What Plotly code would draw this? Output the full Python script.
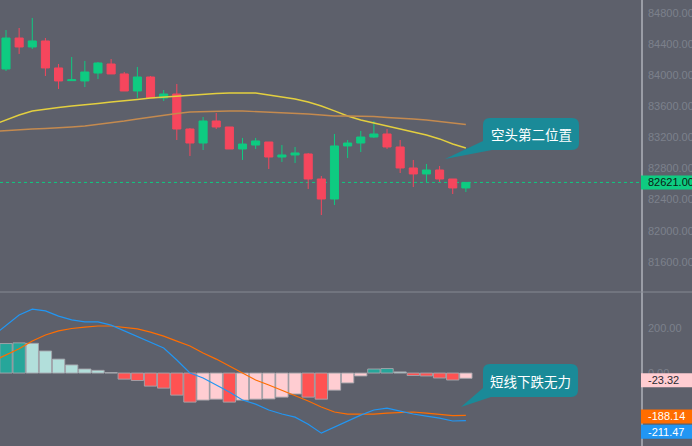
import plotly.graph_objects as go

# ---------------- data ----------------
candle_idx = list(range(1, 37))
opens = [84080, 84478, 84363, 84440, 84093, 83930, 83926, 84028, 84144, 84016, 83797, 83977,
         83707, 83758, 83308, 83128, 83411, 83334, 83051, 83102, 83141, 82948, 82974, 82987,
         82665, 82408, 83090, 83128, 83205, 83244, 83077, 82807, 82730, 82781, 82665, 82550]
highs = [84581, 84607, 84736, 84478, 84144, 84234, 84183, 84170, 84208, 84041, 84106, 83990,
         83810, 83887, 83321, 83463, 83514, 83334, 83193, 83193, 83141, 83102, 83077, 83000,
         82704, 83244, 83167, 83283, 83411, 83308, 83167, 82910, 82858, 82832, 82665, 82621]
lows = [84054, 84273, 84337, 83990, 83823, 83926, 83848, 83951, 84016, 83797, 83707, 83707,
        83668, 83167, 82961, 83038, 83308, 83051, 82910, 83051, 82794, 82884, 82871, 82537,
        82202, 82331, 82935, 83012, 83193, 83051, 82742, 82562, 82627, 82627, 82472, 82498]
closes = [84478, 84363, 84440, 84093, 83926, 83940, 84041, 84157, 84016, 83797, 83977, 83707,
          83758, 83308, 83128, 83411, 83334, 83051, 83115, 83154, 82948, 82974, 83000, 82665,
          82408, 83090, 83128, 83205, 83244, 83077, 82807, 82730, 82781, 82665, 82550, 82621]

line_idx = list(range(0, 37))
ma_fast = [83360, 83424, 83488, 83540, 83565, 83585, 83604, 83617, 83636, 83655, 83668, 83688,
           83707, 83720, 83733, 83745, 83758, 83765, 83771, 83771, 83771, 83745, 83720, 83694,
           83655, 83604, 83540, 83475, 83424, 83385, 83347, 83308, 83270, 83231, 83180, 83115, 83064]
ma_slow = [83276, 83289, 83302, 83308, 83315, 83321, 83334, 83347, 83366, 83392, 83411, 83437,
           83463, 83488, 83508, 83527, 83533, 83540, 83540, 83540, 83533, 83527, 83520, 83514,
           83501, 83488, 83475, 83475, 83475, 83469, 83456, 83450, 83437, 83424, 83405, 83385, 83366]

macd_hist = [131, 134, 132, 98, 62, 36, 18, 12, 2, -27, -33, -58, -67, -98, -129, -120, -116, -129,
             -120, -116, -115, -107, -93, -107, -116, -76, -44, -13, 18, 20, 5, -11, -13, -22, -31, -23.32]
macd_dif = [165, 213, 258, 284, 276, 253, 236, 227, 227, 213, 187, 164, 138, 111, 58, 0, -22, -53,
            -84, -120, -138, -164, -182, -196, -227, -267, -240, -213, -187, -164, -156, -169, -182,
            -191, -200, -213, -211.47]
macd_dea = [53, 80, 108, 142, 169, 187, 198, 204, 209, 209, 204, 196, 182, 164, 142, 120, 89, 62,
            31, 0, -31, -53, -76, -102, -124, -151, -173, -182, -182, -182, -178, -176, -173, -178,
            -182, -189, -188.14]

price_ticks = [81600, 82000, 82400, 82800, 83200, 83600, 84000, 84400, 84800]
macd_ticks = [-200, 0, 200]
callout_texts = ["空头第二位置", "短线下跌无力"]

# ---------------- styling ----------------
W, H = 692, 446
PLOT_W = 641
SPLIT = 292
BG = "#5d606b"
UP = "#0ecb81"
DOWN = "#f6465d"
TICK_COLOR = "#7c808b"
AXIS_LINE = "#9a9da6"
CALLOUT = "#1a8a98"
FONT = "Liberation Sans"
CJK = "Noto Sans CJK SC"


def hist_colors(vals):
    cols, prev = [], None
    for v in vals:
        rising = prev is None or v > prev
        if v >= 0:
            cols.append("#26a69a" if rising else "#b2dfdb")
        else:
            cols.append("#ffcdd2" if rising else "#ff5252")
        prev = v
    return cols


def P(x, y):
    return f"{x / PLOT_W:.5f},{1 - y / H:.5f}"


def callout_path(x0, y0, x1, y1, r, tail):
    a, b, c = tail
    return ("M" + P(x0 + r, y0) + " L" + P(x1 - r, y0) + " Q" + P(x1, y0) + " " + P(x1, y0 + r) +
            " L" + P(x1, y1 - r) + " Q" + P(x1, y1) + " " + P(x1 - r, y1) +
            " L" + P(*c) + " L" + P(*b) + " L" + P(*a) +
            " L" + P(x0, y0 + r) + " Q" + P(x0, y0) + " " + P(x0 + r, y0) + " Z")


fig = go.Figure()

fig.add_trace(go.Candlestick(
    x=candle_idx, open=opens, high=highs, low=lows, close=closes,
    xaxis="x", yaxis="y",
    increasing=dict(line=dict(color=UP, width=1), fillcolor=UP),
    decreasing=dict(line=dict(color=DOWN, width=1), fillcolor=DOWN),
    whiskerwidth=0, showlegend=False, hoverinfo="skip"))

fig.add_trace(go.Scatter(x=line_idx, y=ma_fast, mode="lines", xaxis="x", yaxis="y",
                         line=dict(color="#e3cf3f", width=1.4), showlegend=False, hoverinfo="skip"))
fig.add_trace(go.Scatter(x=line_idx, y=ma_slow, mode="lines", xaxis="x", yaxis="y",
                         line=dict(color="#c48a4f", width=1.4), showlegend=False, hoverinfo="skip"))

fig.add_trace(go.Bar(x=candle_idx, y=macd_hist, xaxis="x2", yaxis="y2",
                     marker=dict(color=hist_colors(macd_hist),
                                 line=dict(color="rgba(165,165,172,0.9)", width=1)),
                     showlegend=False, hoverinfo="skip"))
fig.add_trace(go.Scatter(x=line_idx, y=macd_dea, mode="lines", xaxis="x2", yaxis="y2",
                         line=dict(color="#ff6d00", width=1.2), showlegend=False, hoverinfo="skip"))
fig.add_trace(go.Scatter(x=line_idx, y=macd_dif, mode="lines", xaxis="x2", yaxis="y2",
                         line=dict(color="#2196f3", width=1.2), showlegend=False, hoverinfo="skip"))

split = 1 - SPLIT / H
xr = [0.543, 49.33]

fig.update_layout(
    width=W, height=H,
    margin=dict(l=0, r=W - PLOT_W, t=0, b=0, autoexpand=False),
    paper_bgcolor=BG, plot_bgcolor=BG,
    bargap=0.06, boxgap=0.12,
    font=dict(family=FONT, size=11, color=TICK_COLOR),
    xaxis=dict(domain=[0, 1], range=xr, anchor="y", visible=False,
               rangeslider=dict(visible=False), fixedrange=True),
    xaxis2=dict(domain=[0, 1], range=xr, anchor="y2", matches="x", visible=False),
    yaxis=dict(domain=[split, 1], range=[81212, 84967], side="right", anchor="x",
               tickvals=price_ticks, ticktext=[f"{v:.2f}" for v in price_ticks],
               showgrid=False, zeroline=False, showline=True, linecolor=AXIS_LINE, linewidth=1.5,
               ticks="", ticklabelstandoff=3, automargin=False,
               tickfont=dict(family=FONT, size=11, color=TICK_COLOR)),
    yaxis2=dict(domain=[0, split], range=[-324, 360], side="right", anchor="x2",
                tickvals=macd_ticks, ticktext=[f"{v:.2f}" for v in macd_ticks],
                showgrid=False, zeroline=False, showline=True, linecolor=AXIS_LINE, linewidth=1.5,
                ticks="", ticklabelstandoff=3, automargin=False,
                tickfont=dict(family=FONT, size=11, color=TICK_COLOR)),
)

shapes = [
    dict(type="line", xref="paper", yref="paper", x0=0, x1=W / PLOT_W, y0=split, y1=split,
         line=dict(color="#868993", width=1)),
    dict(type="line", xref="paper", yref="y", x0=0, x1=1, y0=closes[-1], y1=closes[-1],
         line=dict(color=UP, width=1, dash="dot"), layer="below"),
    dict(type="path", xref="paper", yref="paper", layer="above",
         path=callout_path(483, 118, 579, 150, 7, [(483, 141), (445, 159), (492, 150)]),
         fillcolor=CALLOUT, line=dict(width=0)),
    dict(type="path", xref="paper", yref="paper", layer="above",
         path=callout_path(483, 364, 578, 397, 7, [(483, 388), (461, 407), (491, 397)]),
         fillcolor=CALLOUT, line=dict(width=0)),
]

annotations = [
    dict(xref="paper", yref="paper", x=531 / PLOT_W, y=1 - 134 / H, text=callout_texts[0],
         xanchor="center", yanchor="middle",
         showarrow=False, font=dict(family=CJK, size=13.5, color="#ffffff")),
    dict(xref="paper", yref="paper", x=530.5 / PLOT_W, y=1 - 380.5 / H, text=callout_texts[1],
         xanchor="center", yanchor="middle",
         showarrow=False, font=dict(family=CJK, size=13.5, color="#ffffff")),
]

# value labels on the right axis
value_labels = [
    ("y", closes[-1], UP, "#0b1a14", 0),
    ("y2", macd_hist[-1], "#ffcdd2", "#2a2a30", -2),
    ("y2", macd_dea[-1], "#ff6d00", "#ffffff", -1),
    ("y2", macd_dif[-1], "#2196f3", "#ffffff", -11),
]
for yref, val, bg, fg, shift in value_labels:
    shapes.append(dict(type="rect", xref="paper", yref=yref, xsizemode="pixel", ysizemode="pixel",
                       xanchor=1, yanchor=val, x0=0, x1=W - PLOT_W, y0=shift - 7, y1=shift + 7,
                       fillcolor=bg, line=dict(width=0), layer="above"))
    annotations.append(dict(xref="paper", yref=yref, x=1, y=val, xanchor="left", yanchor="middle",
                            xshift=5, yshift=shift, text=f"{val:.2f}", showarrow=False,
                            font=dict(family=FONT, size=11, color=fg)))

fig.update_layout(shapes=shapes, annotations=annotations)

fig.write_html("out.html", config={"displayModeBar": False},
               post_script="document.body.style.margin='0';document.body.style.overflow='hidden';")
